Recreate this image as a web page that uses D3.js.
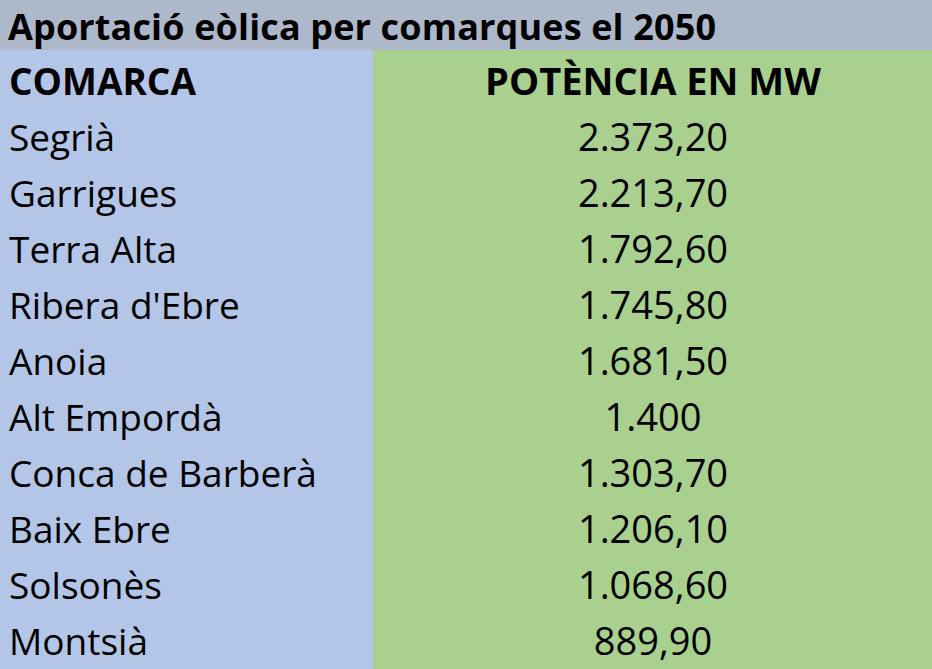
<!DOCTYPE html>
<html><head><meta charset="utf-8">
<script src="https://cdn.jsdelivr.net/npm/d3@7"></script>
<style>body{margin:0;background:#fff}</style></head>
<body><svg id="c" width="932" height="669"></svg>
<script>
const title = "Aportació eòlica per comarques el 2050";
const headers = ["COMARCA", "POTÈNCIA EN MW"];
const comarques = ["Segrià","Garrigues","Terra Alta","Ribera d'Ebre","Anoia","Alt Empordà","Conca de Barberà","Baix Ebre","Solsonès","Montsià"];
const potencia = ["2.373,20","2.213,70","1.792,60","1.745,80","1.681,50","1.400","1.303,70","1.206,10","1.068,60","889,90"];

const svg = d3.select("#c");
const W = 932, titleH = 50, col1 = 373;
const rows = [headers].concat(comarques.map((c,i)=>[c, potencia[i]]));
const y = d3.scaleBand().domain(d3.range(rows.length)).range([titleH, titleH + rows.length*56]);
const font = "Open Sans, sans-serif";

svg.append("rect").attr("x",0).attr("y",0).attr("width",W).attr("height",titleH).attr("fill","#adb9ca");
svg.append("rect").attr("x",0).attr("y",titleH).attr("width",col1).attr("height",669-titleH).attr("fill","#b4c6e7");
svg.append("rect").attr("x",col1).attr("y",titleH).attr("width",W-col1).attr("height",669-titleH).attr("fill","#a9d08e");

svg.append("text").attr("x",8).attr("y",titleH/2+2).attr("dy","0.35em")
  .attr("font-family",font).attr("font-weight","bold").attr("font-size",36).attr("textLength",708).attr("fill","#000").text(title);

const g = svg.selectAll("g.row").data(rows).join("g").attr("transform",(d,i)=>`translate(0,${y(i)+y.bandwidth()/2+4})`);
g.append("text").attr("x",9).attr("dy","0.35em").attr("font-family",font).attr("font-size",37)
  .attr("font-weight",(d,i)=>i===0?"bold":"normal").text(d=>d[0]);
g.append("text").attr("x",653).attr("text-anchor","middle").attr("dy","0.35em").attr("font-family",font).attr("font-size",38)
  .attr("font-weight",(d,i)=>i===0?"bold":"normal").text(d=>d[1]);
</script></body></html>
